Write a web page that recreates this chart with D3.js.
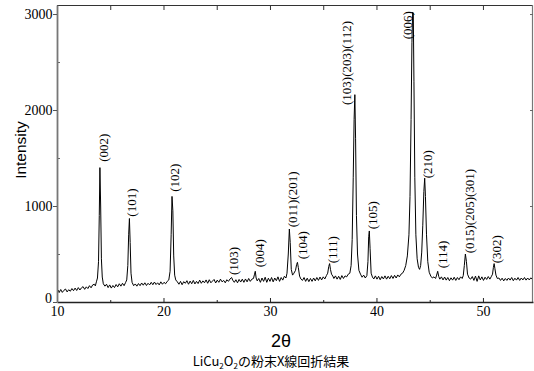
<!DOCTYPE html>
<html>
<head>
<meta charset="utf-8">
<script src="https://cdn.jsdelivr.net/npm/d3@7"></script>
<style>
  html, body { margin: 0; padding: 0; background: #fff; }
  svg { display: block; }
</style>
</head>
<body>
<div id="chart"></div>
<script>
// ---- data ----
const twoTheta = [
  10.0,10.1,10.2,10.35,10.5,10.65,10.8,10.95,11.1,11.25,11.4,11.55,11.7,11.85,12.0,12.15,12.3,12.45,12.6,12.75,12.9,13.05,13.2,13.35,13.5,13.6,13.7,13.8,13.9,13.97,14.03,14.1,14.17,14.25,14.35,
  14.5,14.65,14.8,14.95,15.1,15.25,15.4,15.55,15.7,15.85,16.0,16.15,16.3,16.45, 16.55,16.65,16.73,16.8,16.87,16.95, 17.05,17.2,17.35,17.5,17.65,17.8,17.95,18.1,18.25,18.4,18.55,18.7,18.85,19.0,19.15,19.3,19.45,19.6,19.75,19.9,20.05,20.2,20.35,20.5,
  20.62,20.72,20.8,20.88,20.96,21.05,21.15, 21.3,21.45,21.6,21.75,21.9,22.05,22.2,22.35,22.5,22.65,22.8,22.95,23.1,23.25,23.4,23.55,23.7,23.85,24.0,24.15,24.3,24.45,24.6,24.75,24.9,25.05,25.2,25.35,25.5,25.65,25.8,25.95,26.1,26.25,
  26.4,26.5,26.65,26.8,26.95,27.1,27.25,27.4,27.55,27.7,27.85,28.0,28.15,28.3,28.45,28.55,28.62,28.7,28.8,28.95,29.1,29.25,29.4,29.55,29.7,29.85,30.0,30.15,30.3,30.45,30.6,30.75,30.9,31.05,31.2,31.35,31.5,
  31.6,31.72,31.82,31.9,32.0,32.12,32.25,32.4,32.5,32.58,32.66,32.78,32.9, 33.05,33.2,33.35,33.5,33.65,33.8,33.95,34.1,34.25,34.4,34.55,34.7,34.85,35.0,35.15,35.3, 35.42,35.52,35.6,35.68,35.78,35.9,
  36.0,36.15,36.3,36.45,36.6,36.75,36.9,37.05,37.2,37.35,37.5, 37.62,37.72,37.82,37.9,37.97,38.04,38.12,38.22,38.35,38.5, 38.65,38.8,38.95,39.1, 39.2,39.27,39.33,39.4,39.5,39.62,
  39.75,39.9,40.05,40.2,40.35,40.5,40.65,40.8,40.95,41.1,41.25,41.4,41.55,41.7,41.85,42.0,42.15,42.3, 42.45,42.6,42.75,42.9,43.05,43.15,43.25,43.33,43.4,43.46,43.52,43.6,43.7,43.82,43.95,44.05,44.15,44.25,44.35,44.45,44.53,44.6,44.7,44.82,44.95,
  45.1,45.25,45.4,45.55,45.65,45.75,45.85,45.95,46.1,46.25,46.4,46.55,46.7,46.85,47.0,47.15,47.3,47.45,47.6,47.75,47.9,48.05,48.15, 48.25,48.35,48.45,48.55,48.7,
  48.85,49.0,49.15,49.3,49.45,49.6,49.75,49.9,50.05,50.2,50.35,50.5,50.65,50.8, 50.9,50.98,51.05,51.12,51.22,51.35,
  51.5,51.65,51.8,51.95,52.1,52.25,52.4,52.55,52.7,52.85,53.0,53.15,53.3,53.45,53.6,53.75,53.9,54.05,54.2,54.35,54.5,54.65,54.7
];
const intensity = [
  95,125,98,130,100,122,135,105,128,112,140,118,145,120,150,125,148,160,132,158,140,170,148,178,185,168,210,250,420,900,1400,1000,450,260,190,
  165,185,150,178,145,172,150,182,158,190,165,195,170,205, 230,380,700,870,620,300, 205,170,188,165,192,170,198,175,200,172,195,178,205,180,208,182,200,178,210,185,205,190,215,230,
  320,700,1100,950,480,280,230, 210,185,215,180,212,195,222,185,218,190,225,188,215,192,228,195,220,200,230,195,232,200,218,235,198,228,205,238,210,225,200,232,215,240,
  255,228,205,232,200,235,208,238,205,240,210,245,215,238,245,290,320,250,220,245,205,250,215,258,205,248,215,255,210,250,222,262,215,255,228,268,250,
  300,500,760,620,340,280,300,330,390,413,360,270,240, 225,255,215,248,212,245,215,250,220,255,225,260,230,262,240,275, 300,370,400,340,290,270,
  245,272,238,268,235,275,245,272,262,290,300, 380,650,1300,1900,2160,1700,900,500,330,290, 258,280,250,275, 420,680,740,560,300,260,
  240,272,238,268,232,265,240,272,238,268,242,275,245,278,250,282,262,290, 300,330,380,480,700,1100,1900,2700,3020,3000,2300,1300,700,450,360,340,380,520,800,1150,1290,1100,700,420,310,
  270,250,262,245,280,320,265,238,262,230,260,228,255,222,252,228,258,225,255,232,262,245,275, 380,500,420,290,250,
  238,265,225,270,215,272,230,262,225,258,235,265,238,268, 290,360,400,350,280,245,
  250,225,248,220,245,225,250,228,255,222,248,228,255,225,250,230,255,228,250,230,252,235,244
];
const peakLabels = ["(002)","(101)","(102)","(103)","(004)","(011)(201)","(104)","(111)","(103)(203)(112)","(105)","(006)","(210)","(114)","(015)(205)(301)","(302)"];
const labelTheta = [14.37,17.03,21.09,26.62,28.99,32.12,33.12,35.93,37.24,39.68,42.96,44.84,46.19,48.75,51.25];
const labelIntensity = [1461,889,1149,281,361,778,445,403,2052,757,2736,1289,351,507,403];
const xMajorTicks = [10,20,30,40,50];
const xMinorTicks = [15,25,35,45];
const yMajorTicks = [0,1000,2000,3000];
const yMinorTicks = [500,1500,2500];
const xTitle = "2θ";
const yTitle = "Intensity";

// ---- layout ----
const W = 534, H = 371;
const L = 57, R = 533, T = 5, B = 302;

const svg = d3.select("#chart").append("svg")
  .attr("width", W).attr("height", H)
  .style("background", "#fff");

const x = d3.scaleLinear().domain([10, 54.7]).range([L, R]);
const y = d3.scaleLinear().domain([0, 3094]).range([B, T]);

const serif = "'Liberation Serif','Times New Roman',serif";
const sans = "'Liberation Sans',Arial,sans-serif";

svg.append("clipPath").attr("id", "clip")
  .append("rect").attr("x", L).attr("y", T).attr("width", R - L).attr("height", B - T);

// data line
const pts = twoTheta.map((t, i) => [t, intensity[i]]);
svg.append("path")
  .datum(pts)
  .attr("clip-path", "url(#clip)")
  .attr("fill", "none")
  .attr("stroke", "#000")
  .attr("stroke-width", 1)
  .attr("stroke-linejoin", "miter")
  .attr("d", d3.line().x(d => x(d[0])).y(d => y(d[1])));

// frame lines
svg.append("line").attr("x1", L).attr("x2", R).attr("y1", T + 0.5).attr("y2", T + 0.5)
  .attr("stroke", "#333").attr("stroke-width", 1.2);
svg.append("line").attr("x1", R - 0.5).attr("x2", R - 0.5).attr("y1", T).attr("y2", B)
  .attr("stroke", "#777").attr("stroke-width", 1.2);

// bottom axis
const gxMinor = svg.append("g").attr("transform", `translate(0,${B})`)
  .call(d3.axisBottom(x).tickValues(xMinorTicks).tickSize(-2).tickFormat(""));
const gx = svg.append("g").attr("transform", `translate(0,${B})`)
  .call(d3.axisBottom(x).tickValues(xMajorTicks).tickSizeInner(-4).tickSizeOuter(0).tickPadding(4).tickFormat(d3.format("d")));
gxMinor.select(".domain").remove();
gx.select(".domain").attr("stroke", "#222").attr("stroke-width", 1.4);
gx.selectAll("text").attr("font-family", serif).attr("font-size", 14).attr("fill", "#000");
gx.selectAll(".tick line").attr("stroke", "#222");
gxMinor.selectAll(".tick line").attr("stroke", "#222");

// top ticks
const gxTop = svg.append("g").attr("transform", `translate(0,${T})`)
  .call(d3.axisTop(x).tickValues(xMajorTicks.concat(xMinorTicks)).tickSize(-5).tickFormat(""));
gxTop.select(".domain").remove();
gxTop.selectAll(".tick line").attr("stroke", "#333");

// left axis
const gyMinor = svg.append("g").attr("transform", `translate(${L},0)`)
  .call(d3.axisLeft(y).tickValues(yMinorTicks).tickSize(-3).tickFormat(""));
gyMinor.select(".domain").remove();
gyMinor.selectAll(".tick line").attr("stroke", "#666");
const gy = svg.append("g").attr("transform", `translate(${L},0)`)
  .call(d3.axisLeft(y).tickValues(yMajorTicks).tickSizeInner(4).tickSizeOuter(0).tickPadding(0.5).tickFormat(d3.format("d")));
gy.select(".domain").attr("stroke", "#777").attr("stroke-width", 1.8);
gy.selectAll(".tick line").attr("stroke", "#555");
gy.selectAll("text").attr("font-family", serif).attr("font-size", 14).attr("fill", "#000");
// the "0" label sits just above the "10" label, as in the reference
gy.selectAll(".tick").filter(d => d === 0).select("text").attr("dy", "0.05em").attr("x", -5);

// right ticks
const gyR = svg.append("g").attr("transform", `translate(${R},0)`)
  .call(d3.axisRight(y).tickValues(yMajorTicks.filter(v => v > 0)).tickSize(-3).tickFormat(""));
gyR.select(".domain").remove();
gyR.selectAll(".tick line").attr("stroke", "#666");

// peak labels
svg.append("g").selectAll("text")
  .data(peakLabels)
  .join("text")
  .attr("transform", (d, i) => `translate(${x(labelTheta[i])},${y(labelIntensity[i])}) rotate(-90)`)
  .attr("dy", "0.33em")
  .attr("text-anchor", "start")
  .attr("font-family", serif)
  .attr("font-size", 13)
  .attr("fill", "#000")
  .text(d => d);

// axis titles
svg.append("text")
  .attr("transform", `translate(26,150) rotate(-90)`)
  .attr("text-anchor", "middle")
  .attr("font-family", sans)
  .attr("font-size", 15.5)
  .attr("fill", "#000")
  .text(yTitle);

svg.append("text")
  .attr("x", 281).attr("y", 347)
  .attr("text-anchor", "middle")
  .attr("font-family", sans)
  .attr("font-size", 18)
  .attr("fill", "#000")
  .text(xTitle);

// caption with subscripts
const cap = svg.append("text")
  .attr("x", 271).attr("y", 366)
  .attr("text-anchor", "middle")
  .attr("font-family", "'Noto Sans CJK JP','Liberation Sans',sans-serif")
  .attr("font-size", 13)
  .attr("fill", "#000");
cap.append("tspan").text("LiCu");
cap.append("tspan").attr("font-size", 8).attr("dy", 3).text("2");
cap.append("tspan").attr("dy", -3).text("O");
cap.append("tspan").attr("font-size", 8).attr("dy", 3).text("2");
cap.append("tspan").attr("dy", -3).text("の粉末X線回折結果");
</script>
</body>
</html>
